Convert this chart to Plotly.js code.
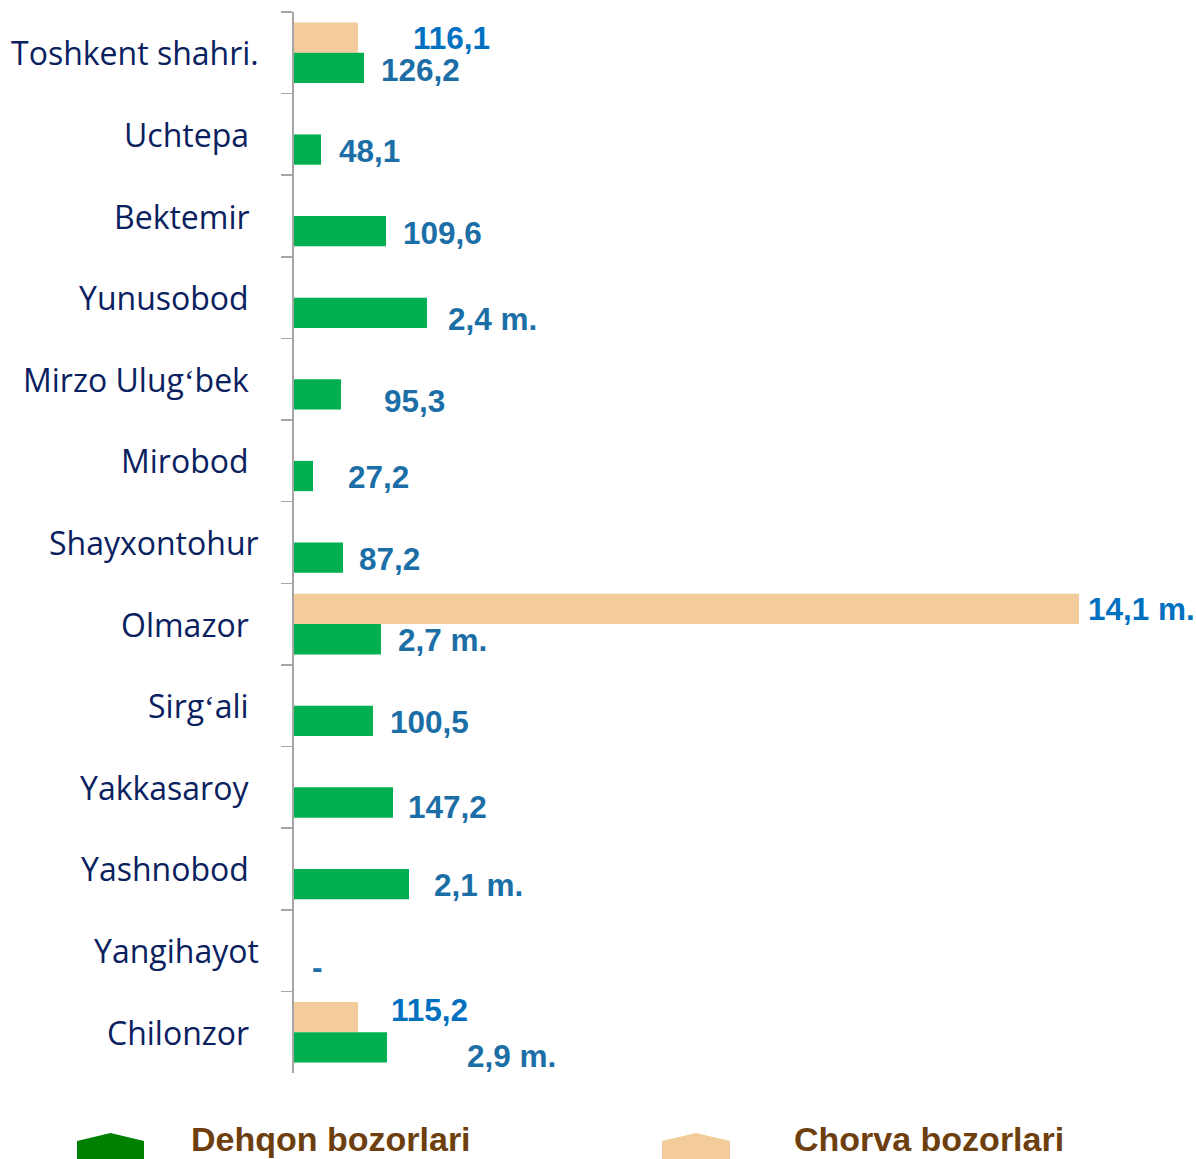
<!DOCTYPE html>
<html>
<head>
<meta charset="utf-8">
<script src="https://cdn.plot.ly/plotly-3.0.1.min.js"></script>
<style>html,body{margin:0;padding:0;background:#fff;}#chart{width:1196px;height:1159px;}</style>
</head>
<body>
<div id="chart"></div>
<script>
// ---- data ----
const categories = ["Toshkent shahri.", "Uchtepa", "Bektemir", "Yunusobod", "Mirzo Ulug\u02BBbek", "Mirobod", "Shayxontohur", "Olmazor", "Sirg\u02BBali", "Yakkasaroy", "Yashnobod", "Yangihayot", "Chilonzor"];
// bar lengths as drawn in the picture (relative units)
const dehqonValues = [70, 27, 92, 133, 47, 19, 49, 87, 79, 99, 115, 0, 93];
const chorvaValues = [64, null, null, null, null, null, null, 785, null, null, null, null, 64];
// value labels printed on the chart
const dehqonLabels = ["126,2", "48,1", "109,6", "2,4 m.", "95,3", "27,2", "87,2", "2,7 m.", "100,5", "147,2", "2,1 m.", "-", "2,9 m."];
const chorvaLabels = ["116,1", null, null, null, null, null, null, "14,1 m.", null, null, null, null, "115,2"];
const seriesNames = ["Dehqon bozorlari", "Chorva bozorlari"];

// ---- styling (positions / offsets) ----
const PLOT_LEFT = 294, PLOT_TOP = 12, PLOT_BOTTOM = 1073, PLOT_W = 902;
const PLOT_H = PLOT_BOTTOM - PLOT_TOP;
const catLabelRight = [258, 248, 249, 248, 248, 248, 258, 248, 248, 248, 248, 258, 248];
const dehqonGap = [16, 17, 16, 20, 42, 34, 15, 16, 16, 14, 24, 17, 79];
const dehqonDown = [2, 1, 2, 6, 7, 1, 1, 1, 1, 5, 1, 1, 9];
const chorvaGap = [54, 0, 0, 0, 0, 0, 0, 8, 0, 0, 0, 0, 32];
const chorvaDown = [0, 0, 0, 0, 0, 0, 0, 0, 0, 0, 0, 0, -7];
const BARGAP = 0.258;
const catPx = PLOT_H / categories.length;
const barOffsetPx = (1 - BARGAP) / 4 * catPx;

const green = "#00B050", peach = "#F4CC9C";
const dehqonLabelColor = "#1B6EA6", chorvaLabelColor = "#0070C0";
const VALUE_FONT = 31.5;

const traces = [
  {type: "bar", orientation: "h", name: seriesNames[1], y: categories, x: chorvaValues,
   marker: {color: peach}, hoverinfo: "skip"},
  {type: "bar", orientation: "h", name: seriesNames[0], y: categories, x: dehqonValues,
   marker: {color: green}, hoverinfo: "skip"}
];

const annotations = [];
categories.forEach((c, i) => {
  annotations.push({xref: "paper", yref: "y", x: 0, y: c, xanchor: "right", yanchor: "middle",
    xshift: catLabelRight[i] - PLOT_LEFT + 3, text: c, showarrow: false,
    font: {family: "Open Sans", size: 32, color: "#0A2160"}});
  if (dehqonLabels[i] !== null) {
    annotations.push({xref: "x", yref: "y", x: dehqonValues[i] || 0, y: c, xanchor: "left", yanchor: "middle",
      xshift: dehqonGap[i] - 1, yshift: -barOffsetPx - dehqonDown[i], text: "<b>" + dehqonLabels[i] + "</b>",
      showarrow: false, font: {family: "Liberation Sans, Arial", size: VALUE_FONT, color: dehqonLabelColor}});
  }
  if (chorvaLabels[i] !== null) {
    annotations.push({xref: "x", yref: "y", x: chorvaValues[i] || 0, y: c, xanchor: "left", yanchor: "middle",
      xshift: chorvaGap[i] - 1, yshift: barOffsetPx - chorvaDown[i], text: "<b>" + chorvaLabels[i] + "</b>",
      showarrow: false, font: {family: "Liberation Sans, Arial", size: VALUE_FONT, color: chorvaLabelColor}});
  }
});

// legend (custom, below chart)
const px = v => (v - PLOT_LEFT) / PLOT_W;
const py = v => (PLOT_BOTTOM - v) / PLOT_H;
function housePath(x0, x1) {
  const xm = (x0 + x1) / 2;
  return `M ${px(x0)} ${py(1162)} L ${px(x0)} ${py(1141)} L ${px(xm)} ${py(1133)} L ${px(x1)} ${py(1141)} L ${px(x1)} ${py(1162)} Z`;
}
const shapes = [
  {type: "path", xref: "paper", yref: "paper", path: housePath(77, 144), fillcolor: "#008000", line: {width: 0}},
  {type: "path", xref: "paper", yref: "paper", path: housePath(662, 730), fillcolor: peach, line: {width: 0}}
];
annotations.push({xref: "paper", yref: "paper", x: px(189), y: py(1139), xanchor: "left", yanchor: "middle",
  text: "<b>" + seriesNames[0] + "</b>", showarrow: false, font: {family: "Liberation Sans, Arial", size: 34, color: "#6E3F0E"}});
annotations.push({xref: "paper", yref: "paper", x: px(792), y: py(1139), xanchor: "left", yanchor: "middle",
  text: "<b>" + seriesNames[1] + "</b>", showarrow: false, font: {family: "Liberation Sans, Arial", size: 34, color: "#6E3F0E"}});

const layout = {
  width: 1196, height: 1159,
  margin: {l: PLOT_LEFT, r: 1196 - PLOT_LEFT - PLOT_W, t: PLOT_TOP, b: 1159 - PLOT_BOTTOM, pad: 0},
  paper_bgcolor: "#ffffff", plot_bgcolor: "#ffffff",
  barmode: "group", bargap: BARGAP, bargroupgap: 0,
  showlegend: false,
  xaxis: {range: [0, PLOT_W], visible: false, fixedrange: true},
  yaxis: {type: "category", range: [categories.length - 0.5, -0.5], showticklabels: false,
    showline: true, linecolor: "#A6A6A6", linewidth: 2, ticks: "outside", tickson: "boundaries",
    ticklen: 11, tickwidth: 1.5, tickcolor: "#A6A6A6", showgrid: false, zeroline: false, fixedrange: true},
  annotations: annotations,
  shapes: shapes
};

Plotly.newPlot("chart", traces, layout, {displayModeBar: false, staticPlot: true});
</script>
</body>
</html>
